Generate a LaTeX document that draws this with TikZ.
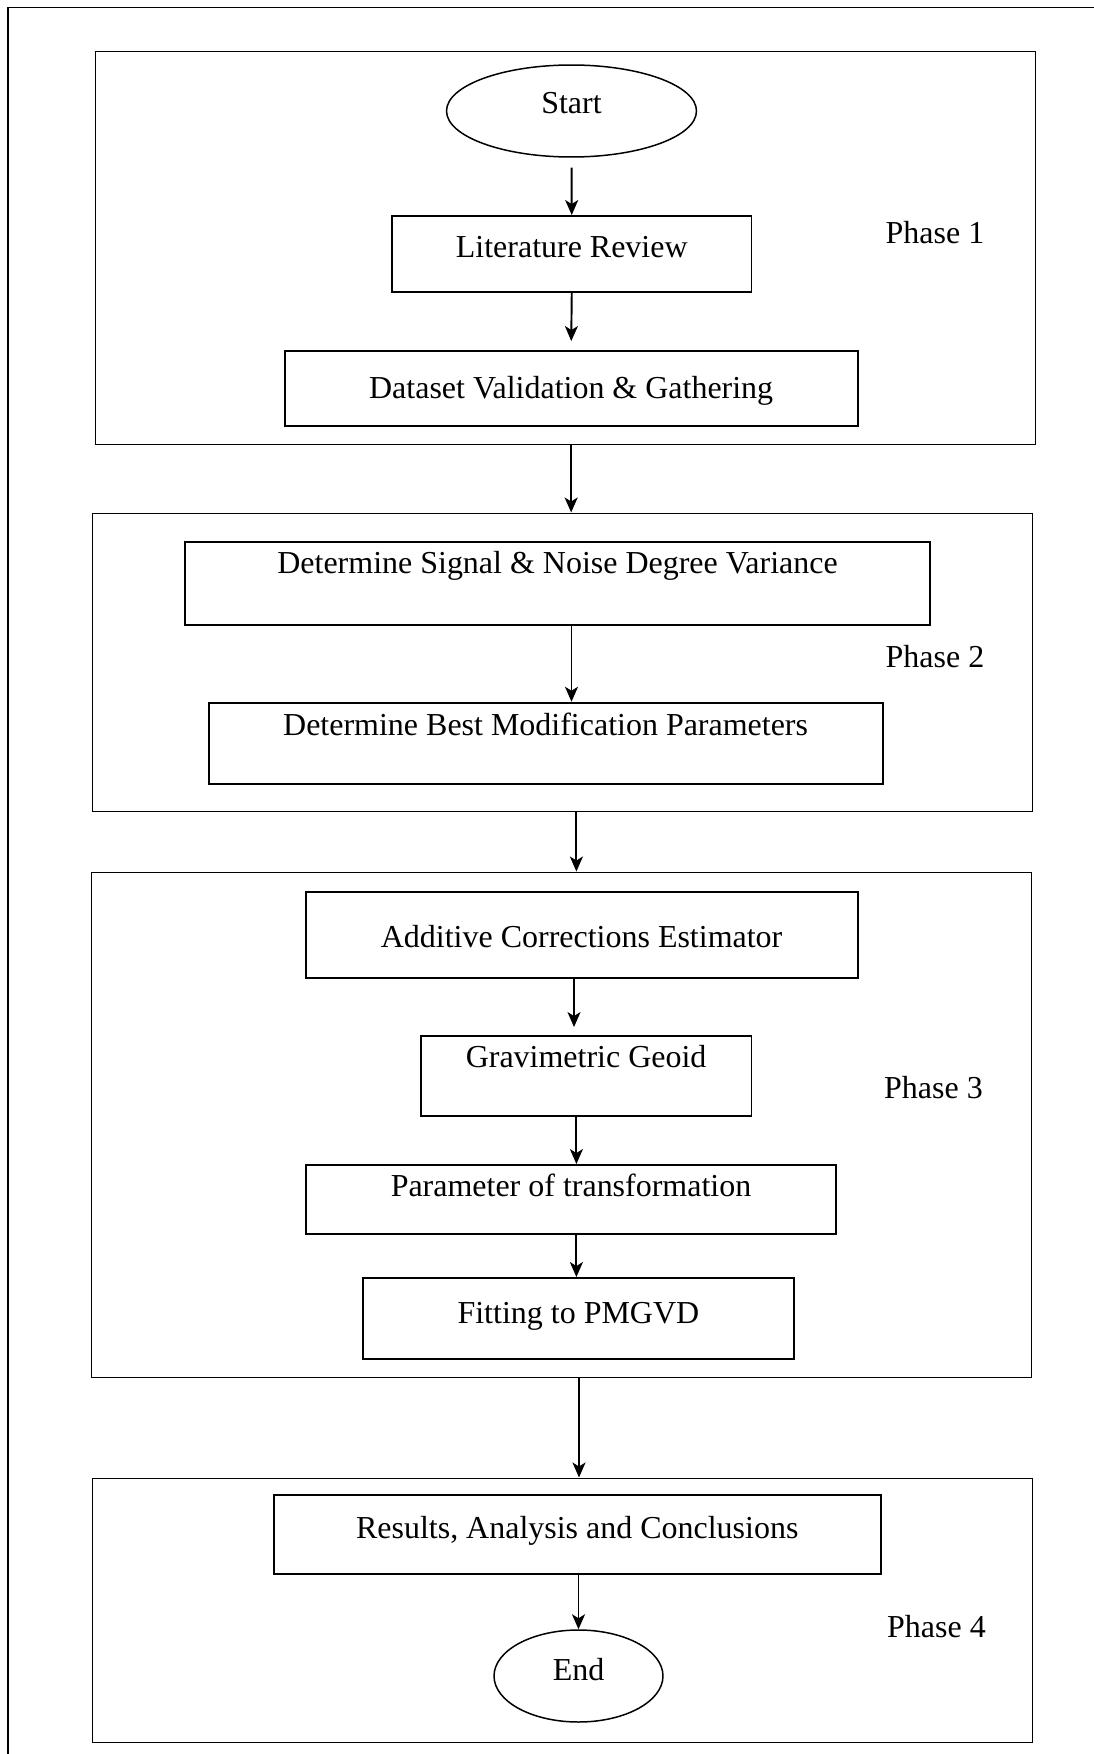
\documentclass[tikz,border=0pt]{standalone}
\usepackage{fontspec}
\setmainfont{Liberation Serif}
\usetikzlibrary{shapes.geometric,arrows.meta}
\tikzset{
	stage/.style={draw, line width=1.1pt, inner sep=0pt, font=\fontsize{18.2pt}{22pt}\selectfont},
	terminal/.style={ellipse, draw, line width=0.85pt, inner sep=0pt, font=\fontsize{18.2pt}{22pt}\selectfont},
	phasebox/.style={draw, line width=0.6pt, inner sep=0pt, minimum width=18.8cm},
	phaselabel/.style={anchor=base, inner sep=0pt, font=\fontsize{18.2pt}{22pt}\selectfont},
	flow/.style={->, line width=1.1pt},
}
\begin{document}
\begin{tikzpicture}[x=0.02cm,y=-0.02cm,>={Stealth[length=0.3cm,width=0.26cm,inset=0.08cm]}]
	\useasboundingbox (0,0) rectangle (1094,1754);
	% frame (only top and left edges show)
	\draw[line width=0.85pt] (1094,7.5) -- (8,7.5) -- (8,1754);
	
	% phase frames
	\node[phasebox, minimum height=7.88cm] (phaseone) at (565.3,248) {};
	\node[phasebox, minimum height=5.974cm] (phasetwo) at (562.7,662.35) {};
	\node[phasebox, minimum height=10.12cm] (phasethree) at (561.2,1125) {};
	\node[phasebox, minimum height=5.286cm] (phasefour) at (562.7,1610.15) {};
	
	% phase 1
	\node[terminal, minimum width=5cm, minimum height=1.84cm, text height=0.4cm, text depth=0.29cm] (start) at (571.5,111) {Start};
	\node[stage, minimum width=7.19cm, text height=0.824cm, text depth=0.696cm] (litreview) at (571.75,254) {Literature Review};
	\node[stage, minimum width=11.46cm, text height=0.956cm, text depth=0.544cm] (dataset) at (571.15,388.5) {Dataset Validation \& Gathering};
	
	% phase 2
	\node[stage, minimum width=14.9cm, text height=0.636cm, text depth=1.03cm] (signoise) at (557.5,583.35) {Determine Signal \& Noise Degree Variance};
	\node[stage, minimum width=13.48cm, text height=0.656cm, text depth=0.976cm] (bestmod) at (545.6,743.5) {Determine Best Modification Parameters};
	
	% phase 3
	\node[stage, minimum width=11.04cm, text height=1.116cm, text depth=0.616cm] (additive) at (581.6,935) {Additive Corrections Estimator};
	\node[stage, minimum width=6.616cm, text height=0.624cm, text depth=0.97cm] (geoid) at (586.1,1075.85) {Gravimetric Geoid};
	\node[stage, minimum width=10.6cm, text height=0.63cm, text depth=0.75cm] (transform) at (571,1199.5) {Parameter of transformation};
	\node[stage, minimum width=8.62cm, text height=0.91cm, text depth=0.71cm] (fitting) at (578.4,1318.5) {Fitting to PMGVD};
	
	% phase 4
	\node[stage, minimum width=12.15cm, text height=0.87cm, text depth=0.71cm] (results) at (577.25,1534.5) {Results, Analysis and Conclusions};
	\node[terminal, minimum width=3.38cm, minimum height=1.84cm, text height=0.45cm, text depth=0.27cm] (end) at (578.5,1676) {End};
	
	% phase labels
	\node[phaselabel] (labelone) at (935,243.5) {Phase 1};
	\node[phaselabel] (labeltwo) at (935,667.2) {Phase 2};
	\node[phaselabel] (labelthree) at (933.5,1098.5) {Phase 3};
	\node[phaselabel] (labelfour) at (936.5,1637.2) {Phase 4};
	
	% arrows
	\draw[flow, shorten <=0.2cm] (start.south) -- (litreview.north);
	\draw[flow, shorten >=0.18cm] (litreview.south) -- (dataset.north);
	\draw[flow] (dataset.south |- phaseone.south) -- (dataset.south |- phasetwo.north);
	\draw[flow] (571.5,0 |- signoise.south) -- (571.5,0 |- bestmod.north);
	\draw[flow] (576.4,0 |- phasetwo.south) -- (576.4,0 |- phasethree.north);
	\draw[flow, shorten >=0.16cm] (574,0 |- additive.south) -- (574,0 |- geoid.north);
	\draw[flow] (576.4,0 |- geoid.south) -- (576.4,0 |- transform.north);
	\draw[flow] (576.4,0 |- transform.south) -- (576.4,0 |- fitting.north);
	\draw[flow] (579,0 |- phasethree.south) -- (579,0 |- phasefour.north);
	\draw[flow] (results.south -| end.north) -- (end.north);
	
\end{tikzpicture}
\end{document}
